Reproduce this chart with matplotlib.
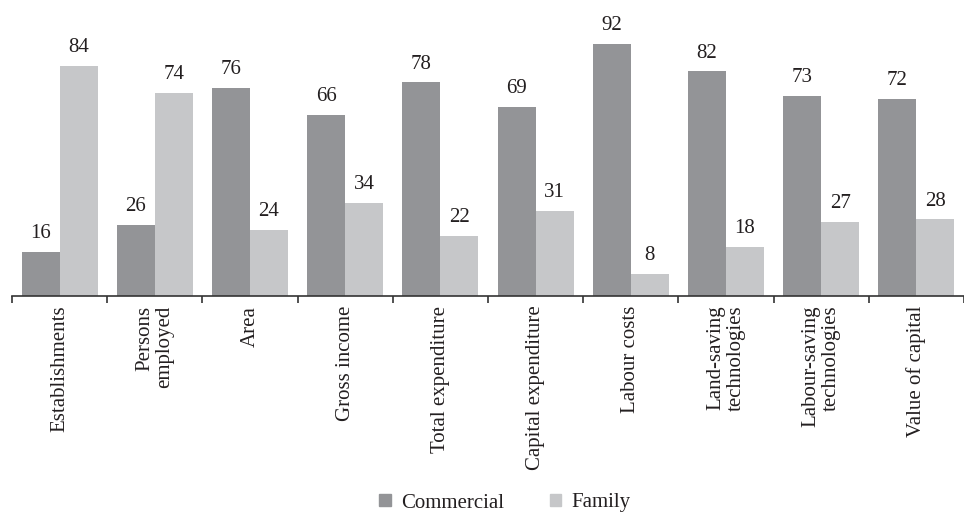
import numpy as np
import matplotlib.pyplot as plt
from matplotlib.patches import Patch

plt.rcParams['font.family'] = ['Liberation Serif', 'DejaVu Serif']

categories = ['Establishments', 'Persons\nemployed', 'Area', 'Gross income',
              'Total expenditure', 'Capital expenditure', 'Labour costs',
              'Land-saving\ntechnologies', 'Labour-saving\ntechnologies',
              'Value of capital']
commercial = [16, 26, 76, 66, 78, 69, 92, 82, 73, 72]
family = [84, 74, 24, 34, 22, 31, 8, 18, 27, 28]

c_dark = '#939497'
c_light = '#c6c7c9'
txt = '#231f20'

fig = plt.figure(figsize=(9.64, 5.13), dpi=100)
ax = fig.add_axes([12 / 964, 217 / 513, 952 / 964, 274 / 513])

x = np.arange(len(categories))
w = 0.40
b1 = ax.bar(x - w / 2, commercial, w, color=c_dark)
b2 = ax.bar(x + w / 2, family, w, color=c_light)

for bars, vals in ((b1, commercial), (b2, family)):
    for bar, v in zip(bars, vals):
        ax.text(bar.get_x() + bar.get_width() / 2, v + 3.2, str(v),
                ha='center', va='bottom', fontsize=15, color=txt)

ax.set_xlim(-0.5, (964 - 12) / 96.3 - 0.5)
ax.set_ylim(0, 100)

for s in ('top', 'right', 'left'):
    ax.spines[s].set_visible(False)
ax.spines['bottom'].set_color('#333333')
ax.spines['bottom'].set_linewidth(1.2)
ax.set_yticks([])

# ticks sit between the groups, labels at group centres
ax.set_xticks(np.arange(-0.5, len(categories), 1.0), minor=True)
ax.tick_params(axis='x', which='minor', length=5, width=1.2, color='#333333')
ax.set_xticks(x)
ax.set_xticklabels(categories, rotation=90, fontsize=15, color=txt,
                   va='top', ha='center', multialignment='right', linespacing=1.05)
ax.tick_params(axis='x', which='major', length=0, pad=7)

handles = [Patch(color=c_dark, label='Commercial'),
           Patch(color=c_light, label='Family')]
fig.legend(handles=handles, loc='center', bbox_to_anchor=(505 / 964, 1 - 503 / 513),
           ncol=2, frameon=False, fontsize=15, handlelength=0.55, handleheight=0.55,
           handletextpad=0.5, columnspacing=2.2, labelcolor=txt)

fig.savefig('out.png', dpi=100)
